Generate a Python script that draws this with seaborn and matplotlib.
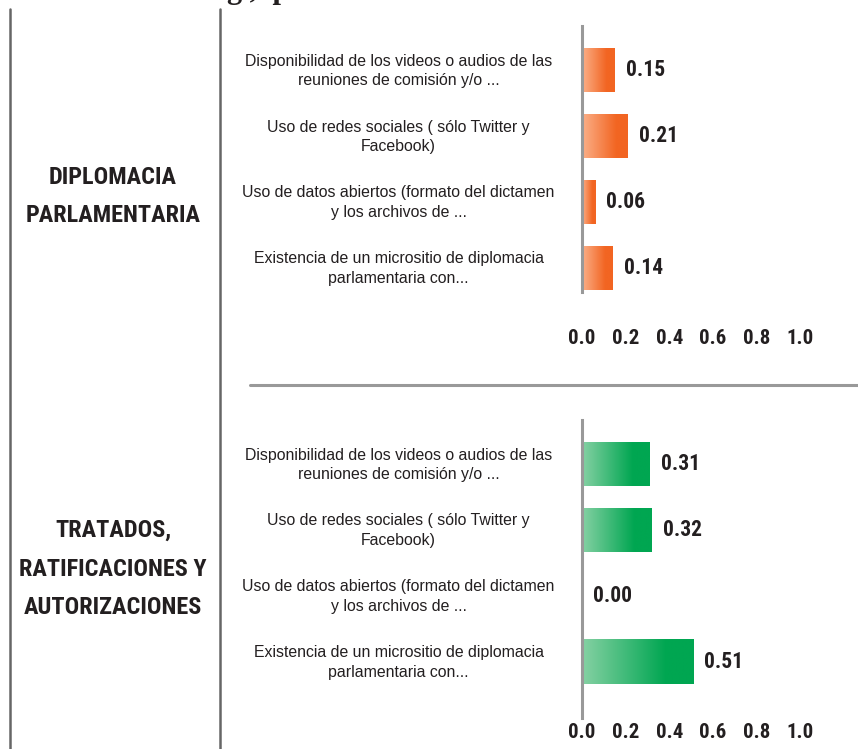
import numpy as np
import matplotlib
matplotlib.use("Agg")
import matplotlib.pyplot as plt
import matplotlib.transforms as mtransforms
from matplotlib import font_manager
from matplotlib.colors import LinearSegmentedColormap
from matplotlib.lines import Line2D
import seaborn as sns

# data
categories = [
    "Disponibilidad de los videos o audios de las\nreuniones de comisión y/o ...",
    "Uso de redes sociales ( sólo Twitter y\nFacebook)",
    "Uso de datos abiertos (formato del dictamen\ny los archivos de ...",
    "Existencia de un micrositio de diplomacia\nparlamentaria con...",
]
diplomacia = [0.15, 0.21, 0.06, 0.14]
tratados = [0.31, 0.32, 0.00, 0.51]
group_titles = ["DIPLOMACIA\nPARLAMENTARIA", "TRATADOS,\nRATIFICACIONES Y\nAUTORIZACIONES"]
x_ticks = [0.0, 0.2, 0.4, 0.6, 0.8, 1.0]

sns.set_style("white")
plt.rcParams["font.family"] = ["Liberation Sans", "DejaVu Sans"]


def pick_condensed():
    # look for a narrow bold face; fall back to Roboto bold
    for fam, stretch in [("Liberation Sans Narrow", "normal"), ("Roboto Condensed", "normal"),
                         ("Open Sans Condensed", "normal"), ("DejaVu Sans", "condensed"),
                         ("Open Sans", "condensed"), ("Roboto", "condensed")]:
        fp = font_manager.FontProperties(family=fam, stretch=stretch, weight="bold")
        try:
            path = font_manager.findfont(fp, fallback_to_default=False)
        except Exception:
            continue
        if "Narrow" in path or "ondensed" in path:
            return fam, stretch
    return "Roboto", "normal"


narrow, narrow_stretch = pick_condensed()
cond = dict(fontfamily=narrow, fontstretch=narrow_stretch, fontweight="bold", color="#231f20")

W, H = 858, 749
fig = plt.figure(figsize=(W / 100, H / 100), dpi=100)
renderer = fig.canvas.get_renderer()


def fit_size(s, target_px, base=20):
    # font size that makes text s about target_px wide
    t = fig.text(0, 0, s, fontsize=base, **cond)
    w = t.get_window_extent(renderer).width
    t.remove()
    return base * target_px / w


def px(x0, y0, x1, y1):
    # pixel box (top-left origin) -> figure rect
    return [x0 / W, 1 - y1 / H, (x1 - x0) / W, (y1 - y0) / H]


def gradient_bars(ax, light, dark):
    cmap = LinearSegmentedColormap.from_list("g", [(0, light), (0.75, dark), (1, dark)])
    grad = np.linspace(0, 1, 256).reshape(1, -1)
    for p in ax.patches:
        x0, y0 = p.get_x(), p.get_y()
        w, h = p.get_width(), p.get_height()
        if w <= 0:
            continue
        im = ax.imshow(grad, cmap=cmap, aspect="auto", extent=[x0, x0 + w, y0 + h, y0],
                       zorder=p.get_zorder() + 0.1)
        im.set_clip_path(p)


tick_fs = 15
value_fs = 15.5
title_fs = min(fit_size("RATIFICACIONES Y", 188), 24)
label_shift = mtransforms.ScaledTranslation(0, 3 / 100, fig.dpi_scale_trans)


def panel(rect, values, ylim, tick_pad, light, dark):
    ax = fig.add_axes(rect)
    sns.barplot(x=values, y=categories, ax=ax, color=dark, width=0.68,
                edgecolor="none", linewidth=0)
    gradient_bars(ax, light, dark)
    ax.set_xlim(0, 1.0)
    ax.set_ylim(*ylim)
    ax.set_xlabel("")
    ax.set_ylabel("")
    for s in ["top", "right", "bottom"]:
        ax.spines[s].set_visible(False)
    ax.spines["left"].set_color("#999999")
    ax.spines["left"].set_linewidth(2.2)
    ax.spines["left"].set_zorder(5)
    ax.set_xticks(x_ticks)
    ax.set_xticklabels([f"{t:.1f}" for t in x_ticks], fontsize=tick_fs, **cond)
    ax.tick_params(axis="x", length=0, pad=tick_pad)
    ax.set_yticks(range(len(categories)))
    ax.set_yticklabels(categories, ha="center", multialignment="center",
                       linespacing=1.35, fontsize=11.4, color="#231f20")
    ax.tick_params(axis="y", length=0, pad=132)
    for lab in ax.get_yticklabels():
        lab.set_transform(lab.get_transform() + label_shift)
    for i, v in enumerate(values):
        ax.annotate(f"{v:.2f}", (v, i), xytext=(8, 0), textcoords="offset points",
                    va="center", ha="left", fontsize=value_fs,
                    annotation_clip=False, **cond)
    ax.set_facecolor("none")
    return ax


panel(px(582, 26, 800, 292), diplomacia, (3.364, -0.667), 26.5,
      "#fbb089", "#f26522")
panel(px(582, 420, 800, 718), tratados, (3.85, -0.667), 3.5,
      "#86d1a4", "#00a651")

# group titles, one text per line (39 px apart)
for title, first_y in zip(group_titles, [177, 530]):
    for k, line in enumerate(title.split("\n")):
        fig.text(113 / W, 1 - (first_y + 39 * k) / H, line, ha="center", va="center",
                 fontsize=title_fs, **cond)

# frame lines
fig.add_artist(Line2D([9.5 / W, 9.5 / W], [0, 1 - 9 / H], transform=fig.transFigure,
                      color="#666666", lw=1.8))
fig.add_artist(Line2D([219.5 / W, 219.5 / W], [0, 1 - 9 / H], transform=fig.transFigure,
                      color="#666666", lw=1.8))
fig.add_artist(Line2D([250 / W, 1], [1 - 385 / H, 1 - 385 / H], transform=fig.transFigure,
                      color="#999999", lw=2.2))

# clipped title remnant at the top edge
fig.text(227 / W, 1 + 2 / H, "g ,  p", ha="left", va="baseline", fontfamily="Liberation Serif",
         fontweight="bold", fontsize=22, color="#231f20")

fig.savefig("out.png", dpi=100)
